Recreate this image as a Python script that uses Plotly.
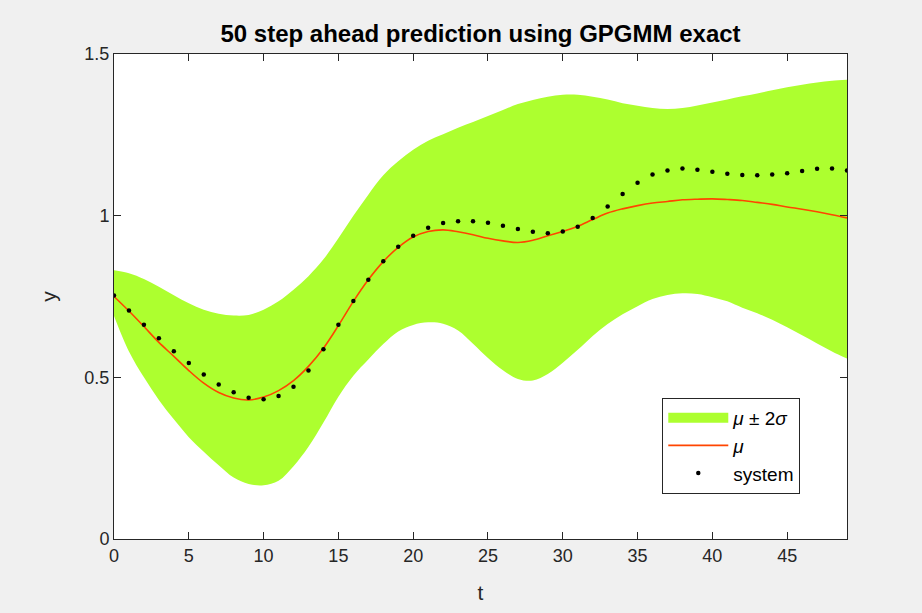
import plotly.graph_objects as go

# time steps
t = list(range(50))

# observed system output
system = [0.753, 0.707, 0.663, 0.621, 0.581, 0.544, 0.509, 0.478, 0.454, 0.437,
          0.432, 0.442, 0.471, 0.521, 0.587, 0.663, 0.736, 0.802, 0.859, 0.904,
          0.938, 0.963, 0.977, 0.983, 0.983, 0.978, 0.969, 0.959, 0.950, 0.946,
          0.951, 0.966, 0.993, 1.028, 1.067, 1.102, 1.127, 1.140, 1.146, 1.142,
          1.136, 1.130, 1.126, 1.125, 1.127, 1.131, 1.138, 1.145, 1.146, 1.140]

# predictive mean
mu = [0.750, 0.705, 0.657, 0.608, 0.565, 0.521, 0.482, 0.453, 0.436, 0.430,
      0.439, 0.459, 0.490, 0.534, 0.590, 0.660, 0.735, 0.802, 0.858, 0.902,
      0.934, 0.951, 0.956, 0.950, 0.941, 0.930, 0.922, 0.917, 0.924, 0.938,
      0.951, 0.967, 0.988, 1.008, 1.021, 1.031, 1.039, 1.044, 1.049, 1.051,
      1.052, 1.050, 1.047, 1.041, 1.035, 1.027, 1.020, 1.012, 1.003, 0.993]

# mu + 2 sigma
upper = [0.831, 0.822, 0.804, 0.780, 0.754, 0.729, 0.709, 0.697, 0.691, 0.693,
         0.709, 0.735, 0.771, 0.813, 0.865, 0.930, 1.000, 1.065, 1.125, 1.168,
         1.204, 1.232, 1.252, 1.272, 1.290, 1.308, 1.327, 1.345, 1.358, 1.368,
         1.374, 1.374, 1.368, 1.359, 1.348, 1.340, 1.333, 1.330, 1.333, 1.341,
         1.350, 1.359, 1.369, 1.378, 1.388, 1.397, 1.405, 1.412, 1.417, 1.420]

# mu - 2 sigma
lower = [0.690, 0.580, 0.500, 0.430, 0.370, 0.315, 0.270, 0.228, 0.190, 0.170,
         0.166, 0.180, 0.225, 0.285, 0.360, 0.440, 0.505, 0.555, 0.603, 0.642,
         0.662, 0.670, 0.666, 0.645, 0.604, 0.560, 0.522, 0.495, 0.490, 0.510,
         0.545, 0.585, 0.628, 0.665, 0.695, 0.720, 0.742, 0.755, 0.760, 0.758,
         0.748, 0.735, 0.715, 0.698, 0.678, 0.655, 0.630, 0.605, 0.580, 0.558]

x_ticks = [0, 5, 10, 15, 20, 25, 30, 35, 40, 45]
y_ticks = [0, 0.5, 1, 1.5]
y_tick_text = ["0", "0.5", "1", "1.5"]

band_color = "#adff2f"
mean_color = "#ff4500"
axis_color = "#262626"
font_family = "Liberation Sans, Arial, sans-serif"

fig = go.Figure()

# confidence band: lower edge, then upper edge filled down to it
fig.add_trace(go.Scatter(
    x=t, y=lower, mode="lines", line=dict(width=0, color=band_color, shape="spline"),
    showlegend=False, hoverinfo="skip"))
fig.add_trace(go.Scatter(
    x=t, y=upper, mode="lines", line=dict(width=0, color=band_color, shape="spline"),
    fill="tonexty", fillcolor=band_color, showlegend=False))
# legend swatch for the band (wide solid bar)
fig.add_trace(go.Scatter(
    x=[None], y=[None], mode="lines", line=dict(width=20, color=band_color),
    name="<i>μ</i> ± 2<i>σ</i>"))
fig.add_trace(go.Scatter(
    x=t, y=mu, mode="lines", line=dict(width=1.6, color=mean_color, shape="spline"),
    name="<i>μ</i>"))
fig.add_trace(go.Scatter(
    x=t, y=system, mode="markers", marker=dict(size=4.5, color="black"),
    name="system"))

axis_common = dict(
    showgrid=False, zeroline=False, showline=True, linecolor=axis_color, linewidth=1,
    mirror="ticks", ticks="inside", ticklen=7, tickcolor=axis_color, tickwidth=1,
    tickfont=dict(family=font_family, size=18, color=axis_color),
)

fig.update_layout(
    width=922, height=613,
    paper_bgcolor="#f0f0f0", plot_bgcolor="white",
    margin=dict(l=114, r=75, t=54, b=74),
    font=dict(family=font_family, color=axis_color),
    title=dict(text="<b>50 step ahead prediction using GPGMM exact</b>",
               x=0.5, xref="paper", xanchor="center", y=0.946, yanchor="middle",
               font=dict(family=font_family, size=24, color="black")),
    xaxis=dict(range=[0, 49], tickvals=x_ticks,
               title=dict(text="t", font=dict(family=font_family, size=21, color=axis_color), standoff=20),
               **axis_common),
    yaxis=dict(range=[0, 1.5], tickvals=y_ticks, ticktext=y_tick_text,
               title=dict(text="y", font=dict(family=font_family, size=21, color=axis_color), standoff=22),
               **axis_common),
    legend=dict(x=0.748, y=0.291, xanchor="left", yanchor="top",
                bgcolor="white", bordercolor=axis_color, borderwidth=1,
                font=dict(family=font_family, size=19, color="black"),
                itemwidth=60, tracegroupgap=0, traceorder="normal"),
)

fig.write_html("out.html")
